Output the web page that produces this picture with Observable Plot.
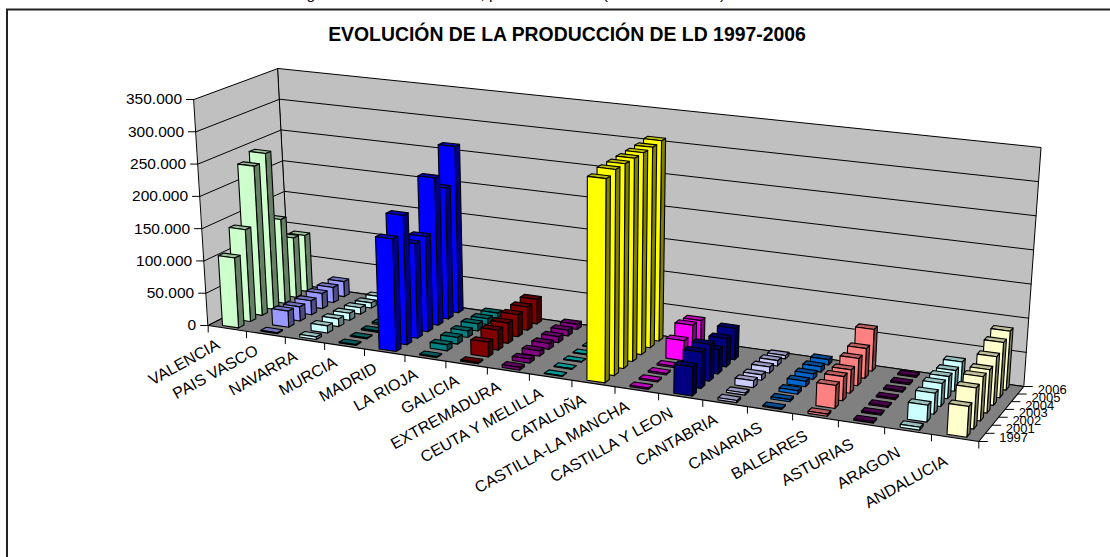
<!DOCTYPE html>
<html><head><meta charset="utf-8">
<script src="https://cdn.jsdelivr.net/npm/d3@7"></script>
<script src="https://cdn.jsdelivr.net/npm/@observablehq/plot@0.6"></script>
<style>html,body{margin:0;padding:0;background:#fff;overflow:hidden}svg{display:block}</style>
</head><body><div id="chart"></div>
<script>
const regions = ["VALENCIA","PAIS VASCO","NAVARRA","MURCIA","MADRID","LA RIOJA","GALICIA","EXTREMADURA","CEUTA Y MELILLA","CATALUÑA","CASTILLA-LA MANCHA","CASTILLA Y LEON","CANTABRIA","CANARIAS","BALEARES","ASTURIAS","ARAGON","ANDALUCIA"];
const years = ["1997","2001","2002","2003","2004","2005","2006"];
const colors = ["#CCFFCC","#9999FF","#CCFFFF","#008080","#0000FF","#008080","#800000","#800080","#00CCCC","#FFFF00","#FF00FF","#000080","#CCCCFF","#0066CC","#FF8080","#660066","#CCFFFF","#FFFFCC"];
const yTicks = [0,50000,100000,150000,200000,250000,300000,350000];
const valencia = [108000,143000,234000,246000,133000,95000,90000];
const paisVasco = [1500,25000,22000,22000,24000,24000,24000];
const navarra = [4000,11000,12000,11000,10000,8000,8000];
const murcia = [1500,1500,2000,2500,3000,3000,3000];
const madrid = [170000,197000,145000,147000,229000,205000,262000];
const laRioja = [1500,9000,10000,10000,11000,9000,8000];
const galicia = [2000,22000,30000,31000,34000,36000,38000];
const extremadura = [4000,6000,8000,9000,9000,9000,8000];
const ceuta = [1000,1000,1000,1000,1000,1000,1000];
const cataluna = [300000,305000,305000,305000,305000,305000,307000];
const clm = [2000,2000,2000,2000,30000,43000,40000];
const cyl = [42000,53000,54000,36000,42000,47000,0];
const cantabria = [3000,3000,10000,8000,9000,8000,5000];
const canarias = [1500,3000,5000,8000,8000,8000,8000];
const baleares = [3000,33000,35000,34000,40000,44000,62000];
const asturias = [2000,2000,2000,2000,2000,2000,2000];
const aragon = [4000,24000,30000,33000,32000,30000,32000];
const andalucia = [43000,58000,63000,62000,70000,80000,86000];
const series = [valencia,paisVasco,navarra,murcia,madrid,laRioja,galicia,extremadura,ceuta,cataluna,clm,cyl,cantabria,canarias,baleares,asturias,aragon,andalucia];

// 3D frame (screen corners of the chart's box)
const A=[207.7,325],B=[978.3,441],C=[1023.3,386],D=[289,283];
const E=[193.5,99],H=[994,190],G=[1040.5,147],F=[277.5,68];
const lerp=(p,q,t)=>[p[0]+(q[0]-p[0])*t,p[1]+(q[1]-p[1])*t];
const warpU=u=>u*(.888+.112*u), warpV=v=>v*(1.05-.05*v);
const maxV=350000;
function project(u,v,val){
  const s=warpU(u),t=warpV(v);
  const p=lerp(lerp(A,D,t),lerp(B,C,t),s), q=lerp(lerp(E,F,t),lerp(H,G,t),s);
  return lerp(p,q,val/maxV);
}
const nR=regions.length,nY=years.length,bw=0.42,bd=0.46;
function shade(c,k){const r=d3.rgb(c);return d3.rgb(r.r*k,r.g*k,r.b*k).formatHex();}

const polys=[];let pid=0;
function addPoly(pts,fill){const id=pid++;for(const p of pts)polys.push({id,x:p[0],y:p[1],fill});}
addPoly([A,D,F,E],"#C0C0C0");
addPoly([D,C,G,F],"#C0C0C0");
addPoly([A,B,C,D],"#808080");
for(let y=nY-1;y>=0;y--)for(let r=0;r<nR;r++){
  const val=series[r][y]; if(!val)continue;
  const u0=(r+.5-bw/2)/nR,u1=(r+.5+bw/2)/nR,v0=(y+.5-bd/2)/nY,v1=(y+.5+bd/2)/nY;
  const c=colors[r];
  addPoly([project(u1,v0,0),project(u1,v1,0),project(u1,v1,val),project(u1,v0,val)],shade(c,.5));
  addPoly([project(u0,v0,val),project(u1,v0,val),project(u1,v1,val),project(u0,v1,val)],shade(c,.75));
  addPoly([project(u0,v0,0),project(u1,v0,0),project(u1,v0,val),project(u0,v0,val)],c);
}
const grid=[];let gid=0;
for(const t of yTicks.slice(1,-1)){
  for(const p of [project(0,0,t),project(0,1,t),project(1,1,t)])grid.push({id:gid,x:p[0],y:p[1]});
  gid++;
}
const fmt=d3.formatLocale({decimal:",",thousands:".",grouping:[3],currency:["","€"]}).format(",d");
const yLabels=yTicks.map(t=>{const p=project(0,0,t);return {x:p[0],y:p[1],t:fmt(t)};});
const xTicks=d3.range(nR+1).map(i=>{const p=project(i/nR,0,0);return {x:p[0],y:p[1]};});
const xLabels=regions.map((n,i)=>{const u=(i+.5)/nR,p=project(u,0,0);return {x:p[0],y:p[1],n,u};});
const zTicks=d3.range(nY+1).map(i=>{const p=project(1,i/nY,0);return {x:p[0],y:p[1]};});
const zLabels=years.map((n,i)=>{const p=project(1,(i+.5)/nY,0);return {x:p[0],y:p[1],n};});
const font="'Liberation Sans',Arial,sans-serif";
const plot=Plot.plot({
  width:1110,height:557,margin:0,
  style:{fontFamily:font,background:"#fff"},
  x:{type:"linear",domain:[0,1110],range:[0,1110],axis:null},
  y:{type:"linear",domain:[0,557],range:[0,557],axis:null},
  color:{type:"identity"},
  marks:[
    Plot.ruleX([6.5],{y1:9,y2:557,stroke:"#222",strokeWidth:2}),
    Plot.ruleY([9],{x1:6,x2:1110,stroke:"#222",strokeWidth:2}),
    Plot.text(["Figura 10. Evolución de LD, producción total (años 1997-2006)"],{x:()=>293,y:()=>-6,fontSize:15.5,fill:"#000",textAnchor:"start"}),
    Plot.text(["EVOLUCIÓN DE LA PRODUCCIÓN DE LD 1997-2006"],{x:()=>566.5,y:()=>34,fontSize:19.4,fontWeight:"bold",fill:"#000",textAnchor:"middle"}),
    Plot.line(polys.filter(d=>d.id<2),{x:"x",y:"y",z:"id",fill:"fill",stroke:"#000",strokeWidth:1,curve:"linear-closed"}),
    Plot.line(grid,{x:"x",y:"y",z:"id",stroke:"#000",strokeWidth:1}),
    Plot.line(polys.filter(d=>d.id>=2),{x:"x",y:"y",z:"id",fill:"fill",stroke:"#000",strokeWidth:1.1,curve:"linear-closed"}),
    Plot.link(yLabels,{x1:d=>d.x-8,y1:"y",x2:"x",y2:"y",stroke:"#000"}),
    Plot.text(yLabels,{x:d=>d.x-12,y:"y",text:"t",textAnchor:"end",fontSize:15.5,fill:"#000"}),
    Plot.link(xTicks,{x1:"x",y1:"y",x2:"x",y2:d=>d.y+7,stroke:"#000"}),
    Plot.text(xLabels,{x:d=>d.x-9,y:d=>d.y+15+Math.max(0,d.u-.7)*25,text:"n",rotate:-29,textAnchor:"end",fontSize:16,fill:"#000"}),
    Plot.link(zTicks,{x1:"x",y1:"y",x2:d=>d.x+9,y2:"y",stroke:"#000"}),
    Plot.text(zLabels,{x:d=>d.x+17,y:"y",text:"n",textAnchor:"start",fontSize:13,fill:"#000"}),
  ]
});
document.getElementById("chart").appendChild(plot);
</script></body></html>
